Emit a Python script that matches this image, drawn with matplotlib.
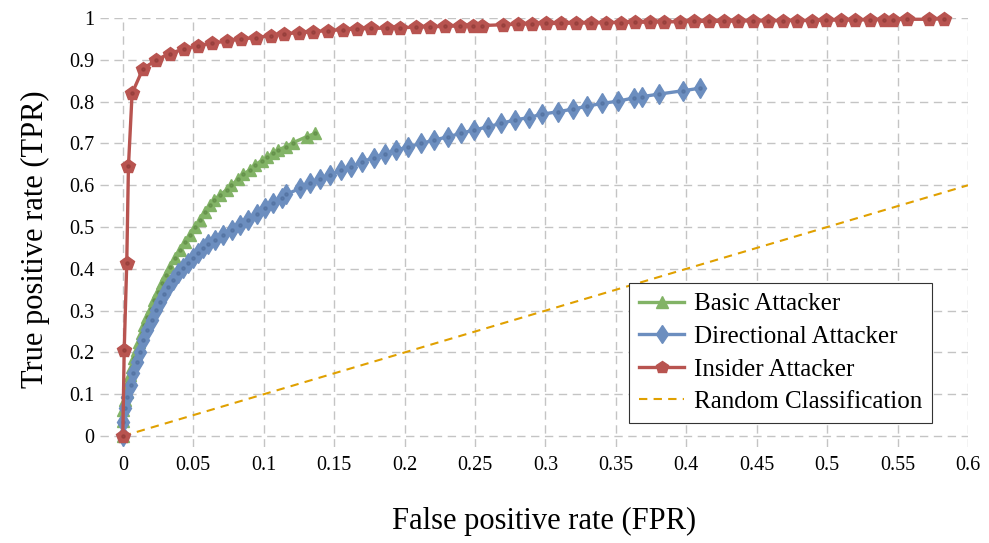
import matplotlib
matplotlib.use("Agg")
import matplotlib.pyplot as plt
from matplotlib.lines import Line2D

plt.rcParams["font.family"] = ["Liberation Serif", "DejaVu Serif"]

# ROC points per attacker model
basic_fpr = [0, 0.0002, 0.0004, 0.0016, 0.0027, 0.0039, 0.0051, 0.0067, 0.0082, 0.0098,
             0.0115, 0.0134, 0.0153, 0.0174, 0.0198, 0.0221, 0.0247, 0.0276, 0.0306, 0.0335,
             0.037, 0.0406, 0.044, 0.0477, 0.0512, 0.0548, 0.058, 0.062, 0.065, 0.069,
             0.0737, 0.077, 0.082, 0.0855, 0.09, 0.0938, 0.0985, 0.1025, 0.1067, 0.11,
             0.1155, 0.121, 0.1304, 0.1365]
basic_tpr = [0, 0.035, 0.062, 0.086, 0.106, 0.126, 0.146, 0.166, 0.186, 0.206,
             0.226, 0.246, 0.266, 0.285, 0.305, 0.325, 0.345, 0.365, 0.385, 0.405,
             0.425, 0.445, 0.465, 0.481, 0.501, 0.517, 0.537, 0.553, 0.565, 0.577,
             0.589, 0.6, 0.614, 0.626, 0.636, 0.648, 0.659, 0.667, 0.677, 0.684,
             0.692, 0.702, 0.716, 0.724]

directional_fpr = [0, 0.0004, 0.0016, 0.0032, 0.0056, 0.0074, 0.0099, 0.0122, 0.0145, 0.0174,
                   0.0205, 0.0233, 0.0264, 0.0292, 0.0323, 0.0358, 0.0394, 0.0429, 0.0465, 0.05,
                   0.0536, 0.0571, 0.0606, 0.0654, 0.0713, 0.0772, 0.0831, 0.089, 0.095, 0.1009,
                   0.1067, 0.1127, 0.116, 0.126, 0.133, 0.14, 0.1474, 0.1547, 0.1623, 0.17,
                   0.1781, 0.186, 0.1942, 0.2025, 0.212, 0.2209, 0.2309, 0.2399, 0.2491, 0.2595,
                   0.2685, 0.2782, 0.2881, 0.2978, 0.3089, 0.3195, 0.3294, 0.3404, 0.3514, 0.3628,
                   0.3687, 0.3805, 0.3975, 0.4094]
directional_tpr = [0, 0.034, 0.066, 0.094, 0.122, 0.15, 0.178, 0.202, 0.23, 0.254,
                   0.278, 0.301, 0.321, 0.341, 0.357, 0.373, 0.389, 0.401, 0.413, 0.425,
                   0.437, 0.449, 0.459, 0.469, 0.481, 0.493, 0.505, 0.517, 0.531, 0.545,
                   0.557, 0.569, 0.578, 0.593, 0.605, 0.615, 0.624, 0.636, 0.644, 0.656,
                   0.666, 0.675, 0.684, 0.692, 0.7, 0.708, 0.716, 0.724, 0.732, 0.74,
                   0.748, 0.756, 0.762, 0.77, 0.776, 0.782, 0.789, 0.796, 0.801, 0.809,
                   0.812, 0.818, 0.826, 0.832]

insider_fpr = [0, 0.001, 0.0028, 0.004, 0.0066, 0.0142, 0.0238, 0.0333, 0.0433, 0.0532,
               0.0636, 0.074, 0.0842, 0.0944, 0.105, 0.1143, 0.125, 0.135, 0.1455, 0.156,
               0.1663, 0.1765, 0.1872, 0.1971, 0.208, 0.2179, 0.2285, 0.2392, 0.2486, 0.2552,
               0.2699, 0.2805, 0.2907, 0.3006, 0.3113, 0.3219, 0.3326, 0.3427, 0.3533, 0.3638,
               0.3739, 0.3845, 0.3952, 0.4053, 0.416, 0.4266, 0.437, 0.4472, 0.4578, 0.4684,
               0.4787, 0.489, 0.4992, 0.5099, 0.52, 0.5304, 0.5406, 0.547, 0.5567, 0.5725,
               0.5831]
insider_tpr = [0, 0.207, 0.414, 0.645, 0.82, 0.878, 0.9, 0.915, 0.926, 0.934,
               0.94, 0.945, 0.95, 0.953, 0.958, 0.962, 0.965, 0.967, 0.97, 0.972,
               0.974, 0.975, 0.976, 0.977, 0.978, 0.979, 0.98, 0.981, 0.982, 0.982,
               0.984, 0.985, 0.986, 0.987, 0.987, 0.988, 0.988, 0.989, 0.989, 0.99,
               0.99, 0.991, 0.991, 0.992, 0.992, 0.992, 0.993, 0.993, 0.993, 0.994,
               0.994, 0.994, 0.995, 0.995, 0.995, 0.996, 0.996, 0.996, 0.997, 0.997,
               0.998]

random_fpr = [0, 0.6]
random_tpr = [0, 0.6]

x_ticks = [0, 0.05, 0.1, 0.15, 0.2, 0.25, 0.3, 0.35, 0.4, 0.45, 0.5, 0.55, 0.6]
y_ticks = [0, 0.1, 0.2, 0.3, 0.4, 0.5, 0.6, 0.7, 0.8, 0.9, 1]

GREEN = "#82B366"
BLUE = "#6C8EBF"
RED = "#B85450"
ORANGE = "#E0A000"

series = [
    ("Basic Attacker", basic_fpr, basic_tpr, GREEN, "#5E8A45", "^", 9),
    ("Directional Attacker", directional_fpr, directional_tpr, BLUE, "#4F6E9C", "d", 10.5),
    ("Insider Attacker", insider_fpr, insider_tpr, RED, "#8E3A37", "p", 10),
]


def main() -> None:
    fig = plt.figure(figsize=(9.89, 5.43), dpi=100)
    ax = fig.add_axes([0.1011, 0.1777, 0.8777, 0.7891])

    ax.plot(random_fpr, random_tpr, color=ORANGE, lw=1.5, ls=(0, (4, 3)), zorder=2)

    handles = []
    for i, (label, xs, ys, col, dark, mk, ms) in enumerate(series):
        ax.plot(xs, ys, color=col, lw=2.4, marker=mk, ms=ms, mec=col, mfc=col,
                zorder=3 + i, clip_on=False)
        ax.plot(xs, ys, ls="none", marker="o", ms=2.3, color=dark, alpha=0.6,
                zorder=3 + i, clip_on=False)
        handles.append(Line2D([], [], color=col, lw=2.4, marker=mk, ms=ms * 0.9, mec=col, mfc=col))
    handles.append(Line2D([], [], color=ORANGE, lw=1.5, ls=(0, (4, 3))))

    ax.set_xlim(-0.0162, 0.6)
    ax.set_ylim(-0.025, 1.0)
    ax.set_xticks(x_ticks)
    ax.set_xticklabels([f"{v:g}" for v in x_ticks])
    ax.set_yticks(y_ticks)
    ax.set_yticklabels([f"{v:g}" for v in y_ticks])
    ax.tick_params(axis="x", labelsize=14.5, length=0, pad=7)
    ax.tick_params(axis="y", labelsize=14.5, length=0, pad=4)
    for s in ax.spines.values():
        s.set_visible(False)
    ax.grid(True, color="#C4C4C4", lw=1.0, ls=(0, (6, 4)))
    ax.set_axisbelow(True)

    ax.set_xlabel("False positive rate (FPR)", fontsize=22)
    ax.set_ylabel("True positive rate (TPR)", fontsize=22)
    ax.xaxis.set_label_coords(0.5115, -0.141)
    ax.yaxis.set_label_coords(-0.058, 0.485)

    leg = ax.legend(
        handles,
        [s[0] for s in series] + ["Random Classification"],
        loc="upper left",
        bbox_to_anchor=(629 / 989, 1 - 283 / 543),
        bbox_transform=fig.transFigure,
        borderaxespad=0,
        fontsize=18,
        frameon=True,
        fancybox=False,
        edgecolor="#333333",
        framealpha=1,
        handlelength=1.8,
        handletextpad=0.4,
        labelspacing=0.4,
        borderpad=0.4,
    )
    leg.get_frame().set_linewidth(0.8)

    fig.savefig("out.png", dpi=100)


if __name__ == "__main__":
    main()
